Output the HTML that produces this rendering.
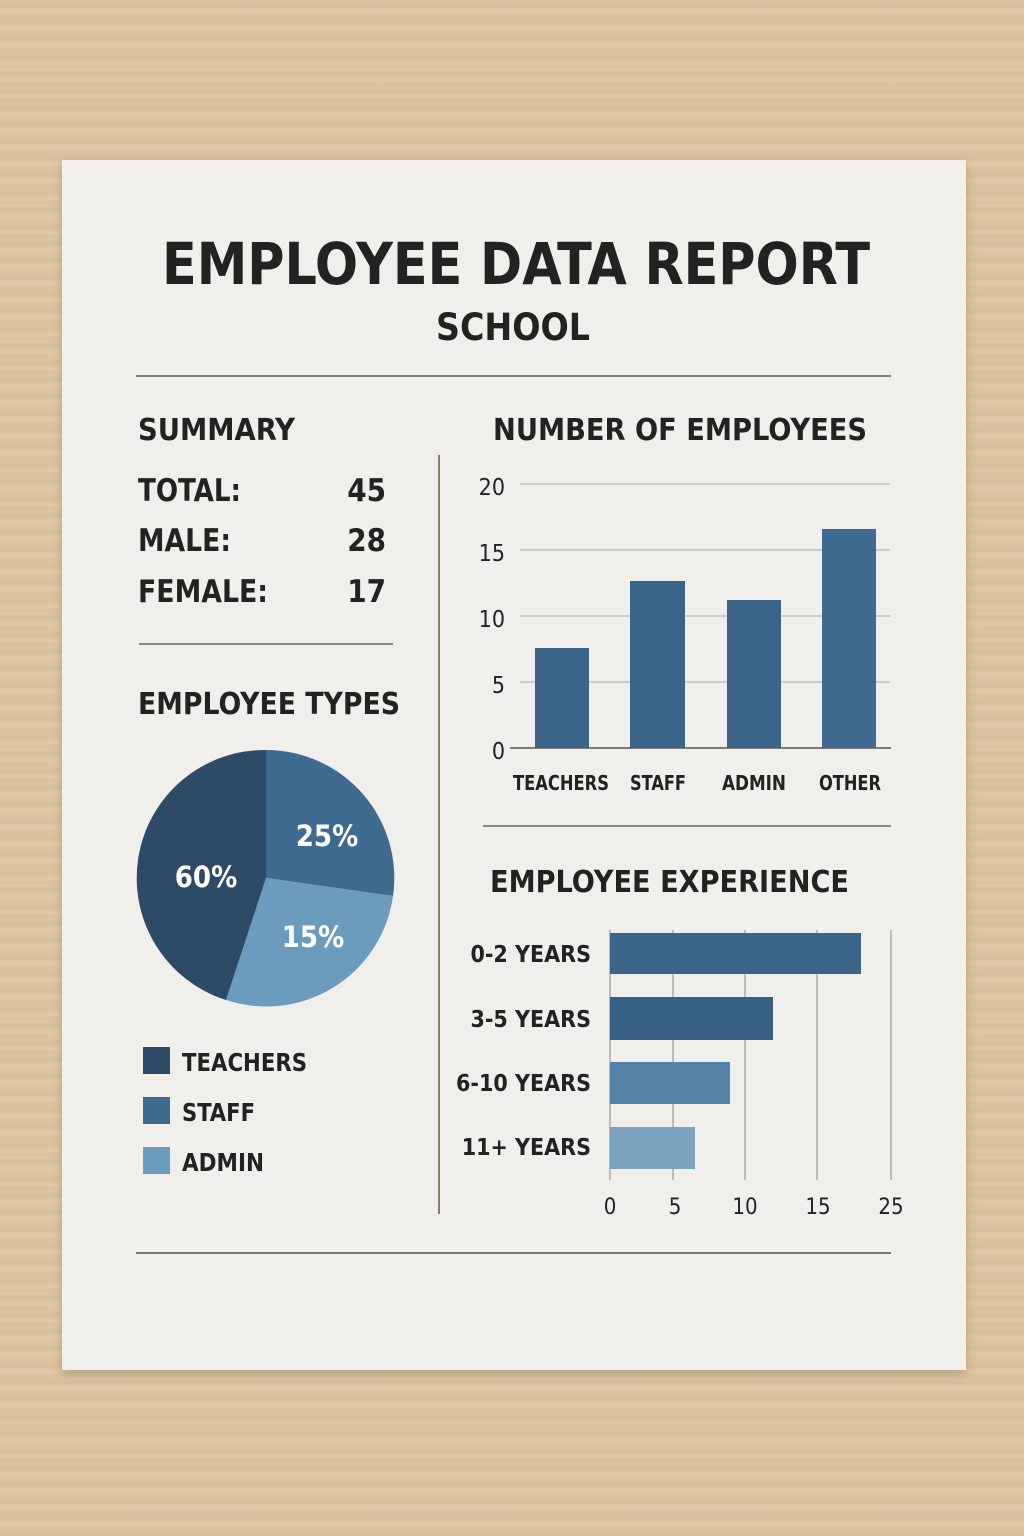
<!DOCTYPE html>
<html><head><meta charset="utf-8"><style>
html,body{margin:0;padding:0;width:1024px;height:1536px;overflow:hidden;background:#dcc4a2;}
body{background:repeating-linear-gradient(180deg,#ddc5a3 0px,#d9c09c 6px,#e0c9a8 11px,#dac19e 17px);}
svg{position:absolute;left:0;top:0;}
text{font-family:"DejaVu Sans Condensed","DejaVu Sans","Liberation Sans",sans-serif;font-weight:bold;fill:#222;}
</style></head><body>
<svg width="1024" height="1536" viewBox="0 0 1024 1536">
<defs><filter id="sh" x="-5%" y="-5%" width="110%" height="110%"><feDropShadow dx="0" dy="4" stdDeviation="5" flood-color="#6b5030" flood-opacity="0.35"/></filter></defs>
<rect x="62" y="160" width="904" height="1210" fill="#f0efeb" filter="url(#sh)"/>
<text x="162" y="284" font-size="58" textLength="708" lengthAdjust="spacingAndGlyphs" fill="#262626">EMPLOYEE DATA REPORT</text>
<text x="513" y="340" font-size="37" text-anchor="middle" style="font-weight:600">SCHOOL</text>
<line x1="136" y1="376" x2="891" y2="376" stroke="#555" stroke-width="1.5"/>
<line x1="136" y1="1253" x2="891" y2="1253" stroke="#555" stroke-width="1.5"/>
<line x1="439" y1="455" x2="439" y2="1214" stroke="#8a7a68" stroke-width="2"/>
<text x="138" y="440" font-size="30" textLength="157" lengthAdjust="spacingAndGlyphs">SUMMARY</text>
<text x="138" y="501" font-size="31" textLength="103" lengthAdjust="spacingAndGlyphs">TOTAL:</text><text x="386" y="501" font-size="31" text-anchor="end">45</text>
<text x="138" y="551" font-size="31" textLength="93" lengthAdjust="spacingAndGlyphs">MALE:</text><text x="386" y="551" font-size="31" text-anchor="end">28</text>
<text x="138" y="602" font-size="31" textLength="130" lengthAdjust="spacingAndGlyphs">FEMALE:</text><text x="386" y="602" font-size="31" text-anchor="end">17</text>
<line x1="139" y1="644" x2="393" y2="644" stroke="#666" stroke-width="1.5"/>
<text x="138" y="714" font-size="30" textLength="262" lengthAdjust="spacingAndGlyphs">EMPLOYEE TYPES</text>
<path d="M266,878 L266,750 A128,128 0 0 1 393,896 Z" fill="#3f6b90"/>
<path d="M266,878 L393,896 A128,128 0 0 1 226,1000 Z" fill="#6b9bbd"/>
<path d="M266,878 L226,1000 A128,128 0 0 1 266,750 Z" fill="#2d4a66"/>
<text x="206" y="887" font-size="29" text-anchor="middle" style="fill:#fff">60%</text>
<text x="327" y="846" font-size="29" text-anchor="middle" style="fill:#fff">25%</text>
<text x="313" y="947" font-size="29" text-anchor="middle" style="fill:#fff">15%</text>
<rect x="143" y="1047" width="27" height="27" fill="#2d4a66"/><text x="182" y="1071" font-size="25" textLength="125" lengthAdjust="spacingAndGlyphs">TEACHERS</text>
<rect x="143" y="1097" width="27" height="27" fill="#3f6b90"/><text x="182" y="1121" font-size="25" textLength="73" lengthAdjust="spacingAndGlyphs">STAFF</text>
<rect x="143" y="1147" width="27" height="27" fill="#6b9bbd"/><text x="182" y="1171" font-size="25" textLength="82" lengthAdjust="spacingAndGlyphs">ADMIN</text>
<text x="493" y="440" font-size="30" textLength="374" lengthAdjust="spacingAndGlyphs">NUMBER OF EMPLOYEES</text>
<g stroke="#aaa" stroke-width="1">
<line x1="520" y1="484" x2="890" y2="484"/><line x1="520" y1="550" x2="890" y2="550"/><line x1="520" y1="616" x2="890" y2="616"/><line x1="520" y1="682" x2="890" y2="682"/></g>
<line x1="510" y1="748" x2="891" y2="748" stroke="#555" stroke-width="1.5"/>
<text x="505" y="495" font-size="23" text-anchor="end" style="font-weight:normal">20</text>
<text x="505" y="561" font-size="23" text-anchor="end" style="font-weight:normal">15</text>
<text x="505" y="627" font-size="23" text-anchor="end" style="font-weight:normal">10</text>
<text x="505" y="693" font-size="23" text-anchor="end" style="font-weight:normal">5</text>
<text x="505" y="759" font-size="23" text-anchor="end" style="font-weight:normal">0</text>
<rect x="535" y="648" width="54" height="100" fill="#3a6589"/>
<rect x="630" y="581" width="55" height="167" fill="#3a6589"/>
<rect x="727" y="600" width="54" height="148" fill="#3a6589"/>
<rect x="822" y="529" width="54" height="219" fill="#3f6b90"/>
<g font-size="20"><text x="513" y="790" textLength="96" lengthAdjust="spacingAndGlyphs">TEACHERS</text><text x="630" y="790" textLength="56" lengthAdjust="spacingAndGlyphs">STAFF</text><text x="722" y="790" textLength="64" lengthAdjust="spacingAndGlyphs">ADMIN</text><text x="819" y="790" textLength="62" lengthAdjust="spacingAndGlyphs">OTHER</text></g>
<line x1="483" y1="826" x2="891" y2="826" stroke="#666" stroke-width="1.5"/>
<text x="490" y="892" font-size="30" textLength="359" lengthAdjust="spacingAndGlyphs">EMPLOYEE EXPERIENCE</text>
<g stroke="#999" stroke-width="1.2"><line x1="610" y1="930" x2="610" y2="1180"/><line x1="673" y1="930" x2="673" y2="1180"/><line x1="745" y1="930" x2="745" y2="1180"/><line x1="817" y1="930" x2="817" y2="1180"/><line x1="891" y1="930" x2="891" y2="1180"/></g>
<rect x="610" y="933" width="251" height="41" fill="#3a6589"/>
<rect x="610" y="997" width="163" height="43" fill="#365f84"/>
<rect x="610" y="1062" width="120" height="42" fill="#5581a6"/>
<rect x="610" y="1127" width="85" height="42" fill="#7ba3c0"/>
<g font-size="23"><text x="591" y="962" text-anchor="end" style="font-weight:600">0-2 YEARS</text><text x="591" y="1027" text-anchor="end" style="font-weight:600">3-5 YEARS</text><text x="591" y="1091" text-anchor="end" style="font-weight:600">6-10 YEARS</text><text x="591" y="1155" text-anchor="end" style="font-weight:600">11+ YEARS</text></g>
<g font-size="22"><text x="610" y="1214" text-anchor="middle" style="font-weight:normal">0</text><text x="675" y="1214" text-anchor="middle" style="font-weight:normal">5</text><text x="745" y="1214" text-anchor="middle" style="font-weight:normal">10</text><text x="818" y="1214" text-anchor="middle" style="font-weight:normal">15</text><text x="891" y="1214" text-anchor="middle" style="font-weight:normal">25</text></g>
</svg>
</body></html>
